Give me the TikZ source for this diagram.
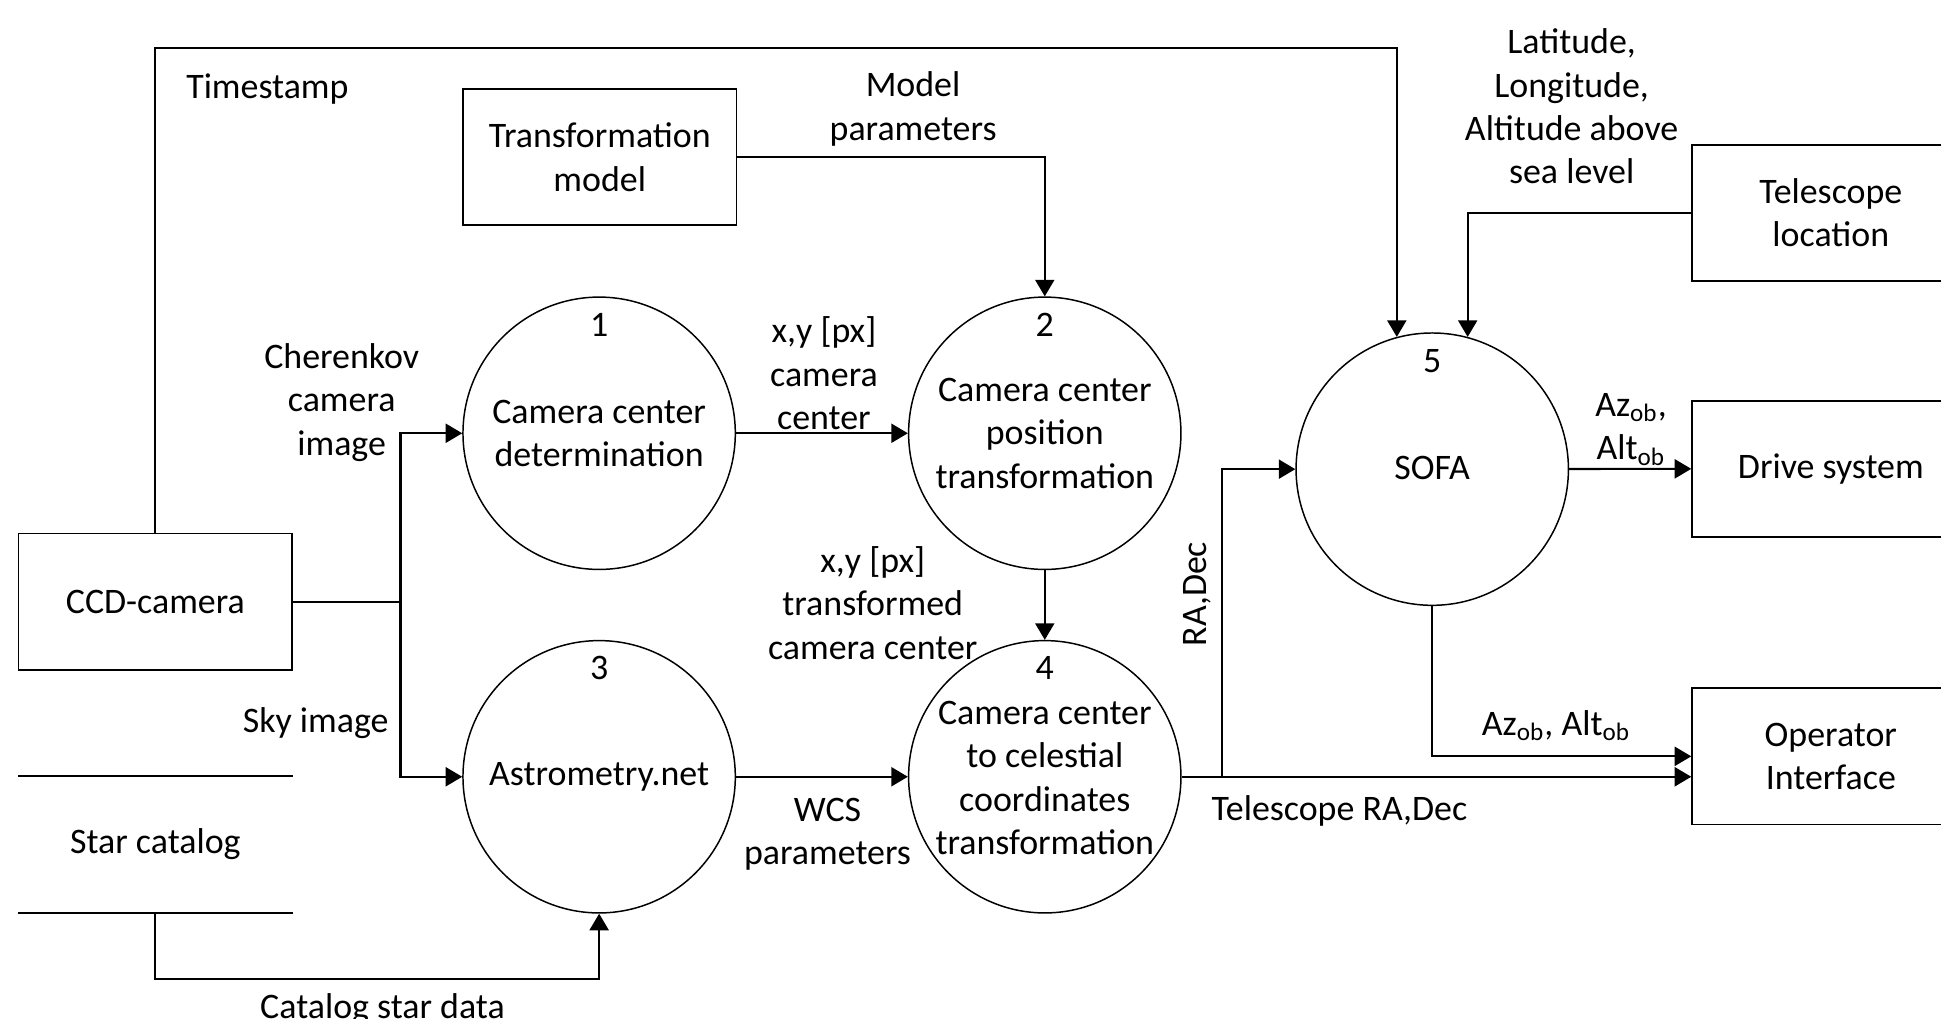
\documentclass[tikz,border=0pt]{standalone}
\usepackage{fontspec}
\setmainfont{Carlito}
\usetikzlibrary{arrows.meta,calc}
\tikzset{
  txt/.style={font=\fontsize{14.5pt}{17.5pt}\selectfont, align=center, inner sep=0pt},
  extbox/.style={draw, line width=0.75pt, minimum width=110.5pt, minimum height=55pt, inner sep=0pt, txt},
  procc/.style={draw, circle, line width=0.6pt, minimum size=110pt, inner sep=0pt},
  wire/.style={line width=0.85pt},
  flow/.style={wire, -{Triangle[length=6.7pt,width=7.7pt]}},
}
\begin{document}
\begin{tikzpicture}[x=0.5pt,y=-0.5pt]
\useasboundingbox (0,0) rectangle (1568,823);

% external entities
\node[extbox] (ccd) at (125.5,486) {CCD-camera};
\node[extbox] (tm) at (484.5,127) {Transformation\\model};
\node[extbox, minimum width=112pt] (tel) at (1479,172) {Telescope\\location};
\node[extbox, minimum width=112pt] (drive) at (1479,378.6) {Drive system};
\node[extbox, minimum width=112pt] (op) at (1479,611) {Operator\\Interface};

% data store
\node[txt, minimum width=110.5pt, minimum height=55pt] (cat) at (125.5,682) {Star catalog};
\draw[line width=0.75pt] (cat.north west) -- (cat.north east);
\draw[line width=0.75pt] (cat.south west) -- (cat.south east);

% processes
\node[procc] (c1) at (484,350) {};
\node[procc] (c2) at (844,350) {};
\node[procc] (c3) at (484,627.5) {};
\node[procc] (c4) at (844,627.5) {};
\node[procc] (sofa) at (1157,379) {};

\node[txt] (n1) at (484,262.5) {1};
\node[txt] (n2) at (844,262.5) {2};
\node[txt] (n3) at (484,540) {3};
\node[txt] (n4) at (844,540) {4};
\node[txt] (n5) at (1157,291.5) {5};

\node[txt] (t1) at (484,350) {Camera center\\determination};
\node[txt] (t2) at (844,350) {Camera center\\position\\transformation};
\node[txt] (t3) at (484,627.5) {Astrometry.net};
\node[txt] (t4) at (844,628.5) {Camera center\\to celestial\\coordinates\\transformation};
\node[txt] (t5) at (1157,378) {SOFA};

% connectors
\coordinate (top) at (0,38.5);
\coordinate (j) at (323.5,486);
\coordinate (rj) at (987,627.5);

\draw[flow] (ccd.north) -- (ccd.north |- top) -| (sofa.105.8);
\draw[flow] (tm.east) -| (c2.north);
\draw[flow] (tel.west) -| (sofa.75.25);
\draw[wire] (ccd.east) -- (j);
\draw[flow] (j) |- (c1);
\draw[flow] (j) |- (c3);
\draw[flow] (c1) -- (c2);
\draw[flow] (c2) -- (c4);
\draw[flow] (c3) -- (c4);
\draw[flow] (cat.south) -- ++(0,53.5) -| (c3.south);
\draw[flow] (c4.east) -- (c4.east -| op.west);
\draw[flow] (rj) |- (sofa.west);
\draw[flow] (sofa) -- (drive);
\draw[flow] (sofa.south) |- (op.west);

% flow labels
\node[txt] (lts) at (216,72) {Timestamp};
\node[txt] (lmp) at (737.6,88) {Model\\parameters};
\node[txt] (lloc) at (1269.6,86) {Latitude,\\Longitude,\\Altitude above\\sea level};
\node[txt] (lcher) at (276,325) {Cherenkov\\camera\\image};
\node[txt] (lxy1) at (665.6,301.6) {x,y [px]\\camera\\center};
\node[txt] (lxy2) at (705,487) {x,y [px]\\transformed\\camera center};
\node[txt] (lsky) at (255,584.5) {Sky image};
\node[txt] (lwcs) at (668.5,674) {WCS\\parameters};
\node[txt, rotate=90] (lra) at (967,480) {RA,Dec};
\node[txt] (ltra) at (1082,655) {Telescope RA,Dec};
\node[txt] (laz1) at (1317.6,347) {Az\textsubscript{ob},\\Alt\textsubscript{ob}};
\node[txt] (laz2) at (1257,586.4) {Az\textsubscript{ob}, Alt\textsubscript{ob}};
\node[txt] (lcat) at (309,815) {Catalog star data};
\end{tikzpicture}
\end{document}
